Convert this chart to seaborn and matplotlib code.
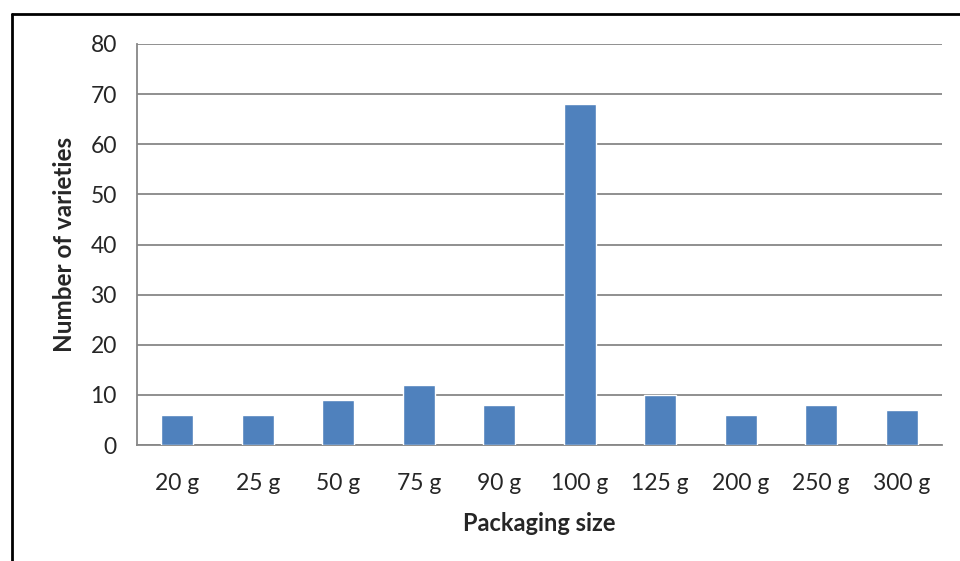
import matplotlib
matplotlib.use('Agg')
import matplotlib.pyplot as plt
import pandas as pd
import seaborn as sns
from matplotlib.lines import Line2D

sizes = ['20 g', '25 g', '50 g', '75 g', '90 g', '100 g', '125 g', '200 g', '250 g', '300 g']
varieties = [6, 6, 9, 12, 8, 68, 10, 6, 8, 7]

df = pd.DataFrame({'Size': sizes, 'Varieties': varieties})

sns.set_style('white')
plt.rcParams['font.family'] = ['Lato', 'DejaVu Sans']

fig = plt.figure(figsize=(9.6, 5.61), dpi=100)
ax = fig.add_axes([137 / 960, 1 - 445 / 561, 805 / 960, 401 / 561])

sns.barplot(data=df, x='Size', y='Varieties', color='#4F81BD', width=0.4,
            saturation=1, ax=ax, zorder=3)

grid_c = '#878787'
ax.set_ylim(0, 80)
ax.set_yticks(range(0, 81, 10))
ax.set_xlim(-0.5, len(sizes) - 0.5)
ax.yaxis.grid(True, color=grid_c, linewidth=1.3, zorder=0)
ax.set_axisbelow(True)
for s in ['top', 'right']:
    ax.spines[s].set_visible(False)
for s in ['left', 'bottom']:
    ax.spines[s].set_color(grid_c)
    ax.spines[s].set_linewidth(1.3)
ax.tick_params(axis='y', length=6.5, width=1.3, color=grid_c, labelsize=16.5, pad=8)
ax.tick_params(axis='x', length=0, labelsize=16.5, pad=20)

ax.set_xlabel('Packaging size', fontsize=17, fontweight='bold', labelpad=13)
ax.set_ylabel('Number of varieties', fontsize=17.5, fontweight='bold', labelpad=10)

# outer frame (top and left edges)
fig.add_artist(Line2D([12 / 960, 12 / 960], [0, 1 - 14 / 561], color='black', lw=2,
                      transform=fig.transFigure))
fig.add_artist(Line2D([12 / 960, 1], [1 - 14 / 561, 1 - 14 / 561], color='black', lw=2,
                      transform=fig.transFigure))

fig.savefig('out.png', dpi=100)
